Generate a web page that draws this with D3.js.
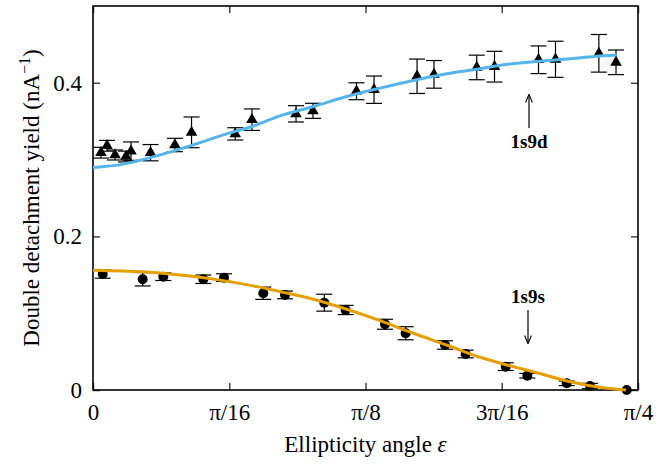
<!DOCTYPE html>
<html>
<head>
<meta charset="utf-8">
<script src="https://cdn.jsdelivr.net/npm/d3@7"></script>
<style>
  body { margin: 0; background: #fff; }
  svg { display: block; }
  text { font-family: "Liberation Serif", "Times New Roman", serif; fill: #000; }
</style>
</head>
<body>
<div id="chart"></div>
<script>
// ellipticity angle (rad) and yields
var triX   = [0.0115, 0.0202, 0.0317, 0.0476, 0.0548, 0.0829, 0.118, 0.142, 0.205, 0.229, 0.2926,
              0.317, 0.3797, 0.405, 0.467, 0.4914, 0.553, 0.5786, 0.642, 0.6665, 0.729, 0.7537];
var triY   = [0.309, 0.318, 0.306, 0.304, 0.311, 0.309, 0.319, 0.3355, 0.3335, 0.352, 0.3596,
              0.3635, 0.389, 0.391, 0.4085, 0.411, 0.420, 0.421, 0.430, 0.4306, 0.4384, 0.4267];
var triErr = [0.007, 0.007, 0.0065, 0.007, 0.012, 0.0106, 0.0087, 0.020, 0.008, 0.014, 0.0106,
              0.0098, 0.011, 0.0178, 0.0224, 0.018, 0.016, 0.020, 0.018, 0.0235, 0.0245, 0.016];

var dotX   = [0.014, 0.0716, 0.1013, 0.159, 0.1888, 0.2454, 0.2767, 0.3333, 0.3641, 0.4208,
              0.4506, 0.5073, 0.5371, 0.5948, 0.6259, 0.6827, 0.7162, 0.7691];
var dotY   = [0.1511, 0.1442, 0.1476, 0.1442, 0.1463, 0.126, 0.1238, 0.1137, 0.1042, 0.0856,
              0.0739, 0.0586, 0.0469, 0.0304, 0.0186, 0.0087, 0.0052, 0.0];
var dotErr = [0.0055, 0.0087, 0.005, 0.0055, 0.005, 0.008, 0.005, 0.011, 0.006, 0.0065,
              0.0085, 0.0055, 0.005, 0.005, 0.003, 0.003, 0.0035, 0];

// fitted curves, sampled from the figure
var fitX  = [0, 0.0437, 0.0918, 0.1398, 0.1878, 0.2359, 0.2695, 0.3175, 0.3656, 0.4136,
             0.4616, 0.5097, 0.5577, 0.5913, 0.6394, 0.6874, 0.7354];
var fitD  = [0.2896, 0.2941, 0.3049, 0.3179, 0.3322, 0.3453, 0.357, 0.3691, 0.3822, 0.3931,
             0.403, 0.4117, 0.4182, 0.4235, 0.4278, 0.4313, 0.4352];
var fitS  = [0.156, 0.155, 0.1528, 0.1485, 0.1424, 0.1346, 0.1281, 0.1182, 0.1051, 0.0903,
             0.0739, 0.0586, 0.0426, 0.0339, 0.0225, 0.0108, 0.003];
var fitDEnd = [0.7547, 0.4361];
var fitSEnd = [0.768, 0.0];

var xTicks  = [0, Math.PI/16, Math.PI/8, 3*Math.PI/16, Math.PI/4];
var xLabels = ["0", "\u03c0/16", "\u03c0/8", "3\u03c0/16", "\u03c0/4"];
var yTicks  = [0, 0.2, 0.4];
var yLabels = ["0", "0.2", "0.4"];

var W = 670, H = 465;
var margin = {top: 6, right: 32, bottom: 75, left: 93};
var width = W - margin.left - margin.right,
    height = H - margin.top - margin.bottom;

var xScale = d3.scaleLinear().domain([0, Math.PI/4]).range([0, width]);
var yScale = d3.scaleLinear().domain([0, 0.5]).range([height, 0]);

var svg = d3.select("#chart").append("svg")
    .attr("width", W).attr("height", H);
var g = svg.append("g")
    .attr("transform", "translate(" + margin.left + "," + margin.top + ")");

// axes, ticks pointing inward on all four sides
var fmtX = function(d, i){ return xLabels[i]; };
var fmtY = function(d, i){ return yLabels[i]; };

var bottom = g.append("g").attr("transform", "translate(0," + height + ")")
    .call(d3.axisBottom(xScale).tickValues(xTicks).tickFormat(fmtX).tickSize(-7).tickSizeOuter(0).tickPadding(14));
var top_ = g.append("g")
    .call(d3.axisTop(xScale).tickValues(xTicks).tickFormat("").tickSize(-7).tickSizeOuter(0));
var left = g.append("g")
    .call(d3.axisLeft(yScale).tickValues(yTicks).tickFormat(fmtY).tickSize(-7).tickSizeOuter(0).tickPadding(11));
var right = g.append("g").attr("transform", "translate(" + width + ",0)")
    .call(d3.axisRight(yScale).tickValues(yTicks).tickFormat("").tickSize(-7).tickSizeOuter(0));

g.selectAll(".domain").remove();
g.selectAll(".tick line").attr("stroke", "#444").attr("stroke-width", 1.5);
g.selectAll(".tick text")
    .attr("font-family", "Liberation Serif")
    .attr("font-size", 23)
    .attr("fill", "#000");

g.append("rect")
    .attr("x", 0).attr("y", 0)
    .attr("width", width).attr("height", height)
    .attr("fill", "none").attr("stroke", "#000").attr("stroke-width", 1.6);

// error bars
function errorBars(xs, ys, es, cls){
    var data = xs.map(function(x, i){ return {x: x, y: ys[i], e: es[i]}; })
        .filter(function(d){ return d.e > 0; });
    var bars = g.selectAll("g." + cls).data(data).enter().append("g").attr("class", cls)
        .attr("stroke", "#000").attr("stroke-width", 1.2);
    bars.append("line")
        .attr("x1", d=>xScale(d.x)).attr("x2", d=>xScale(d.x))
        .attr("y1", d=>yScale(d.y - d.e)).attr("y2", d=>yScale(d.y + d.e));
    bars.append("line")
        .attr("x1", d=>xScale(d.x) - 8).attr("x2", d=>xScale(d.x) + 8)
        .attr("y1", d=>yScale(d.y - d.e)).attr("y2", d=>yScale(d.y - d.e));
    bars.append("line")
        .attr("x1", d=>xScale(d.x) - 8).attr("x2", d=>xScale(d.x) + 8)
        .attr("y1", d=>yScale(d.y + d.e)).attr("y2", d=>yScale(d.y + d.e));
}
errorBars(triX, triY, triErr, "ebar-d");
errorBars(dotX, dotY, dotErr, "ebar-s");

// markers
var tri = d3.symbol().type(d3.symbolTriangle).size(58);
g.selectAll("path.tri").data(triX).enter().append("path")
    .attr("class", "tri")
    .attr("d", tri)
    .attr("transform", (d, i) => "translate(" + xScale(d) + "," + yScale(triY[i]) + ")")
    .attr("fill", "#000");

g.selectAll("circle.dot").data(dotX).enter().append("circle")
    .attr("class", "dot")
    .attr("cx", d => xScale(d))
    .attr("cy", (d, i) => yScale(dotY[i]))
    .attr("r", 5)
    .attr("fill", "#000");

// fit curves
var line = d3.line()
    .x(d => xScale(d[0])).y(d => yScale(d[1]))
    .curve(d3.curveMonotoneX);

var dPts = fitX.map((x, i) => [x, fitD[i]]).concat([fitDEnd]);
var sPts = fitX.map((x, i) => [x, fitS[i]]).concat([fitSEnd]);

g.append("path").datum(dPts)
    .attr("d", line).attr("fill", "none")
    .attr("stroke", "#56b4e9").attr("stroke-width", 3);
g.append("path").datum(sPts)
    .attr("d", line).attr("fill", "none")
    .attr("stroke", "#e69f00").attr("stroke-width", 3);

// annotations
svg.append("defs").append("marker")
    .attr("id", "arr").attr("viewBox", "0 0 10 10")
    .attr("refX", 9).attr("refY", 5)
    .attr("markerWidth", 7).attr("markerHeight", 7)
    .attr("orient", "auto")
    .append("path").attr("d", "M0,1 L10,5 L0,9").attr("fill", "none")
    .attr("stroke", "#000").attr("stroke-width", 1.3);

var ax = 529 - margin.left;
g.append("line")
    .attr("x1", ax).attr("x2", ax)
    .attr("y1", 128 - margin.top).attr("y2", 95 - margin.top)
    .attr("stroke", "#000").attr("stroke-width", 1.2).attr("marker-end", "url(#arr)");
g.append("text")
    .attr("x", ax).attr("y", 148 - margin.top)
    .attr("text-anchor", "middle").attr("font-weight", "bold").attr("font-size", 19)
    .text("1s9d");

g.append("line")
    .attr("x1", ax - 1).attr("x2", ax - 1)
    .attr("y1", 310 - margin.top).attr("y2", 343 - margin.top)
    .attr("stroke", "#000").attr("stroke-width", 1.2).attr("marker-end", "url(#arr)");
g.append("text")
    .attr("x", ax - 1).attr("y", 303 - margin.top)
    .attr("text-anchor", "middle").attr("font-weight", "bold").attr("font-size", 19)
    .text("1s9s");

// axis titles
var xt = svg.append("text")
    .attr("x", margin.left + width / 2).attr("y", 452)
    .attr("text-anchor", "middle").attr("font-size", 23);
xt.append("tspan").text("Ellipticity angle ");
xt.append("tspan").attr("font-style", "italic").text("\u03b5");

var yt = svg.append("text")
    .attr("transform", "translate(39," + (margin.top + height / 2) + ") rotate(-90)")
    .attr("text-anchor", "middle").attr("font-size", 23);
yt.append("tspan").text("Double detachment yield (nA");
yt.append("tspan").attr("font-size", 16).attr("dy", -9).text("\u22121");
yt.append("tspan").attr("dy", 9).text(")");
</script>
</body>
</html>
